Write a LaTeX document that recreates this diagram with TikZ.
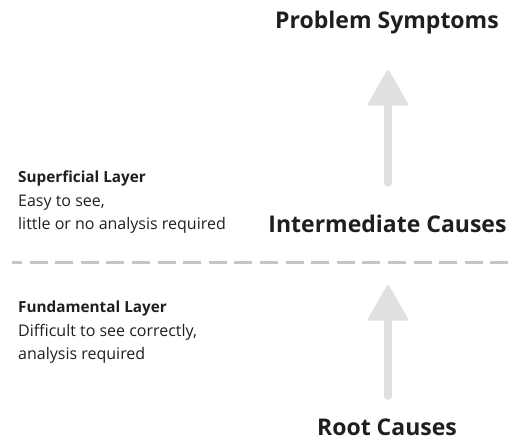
\documentclass[tikz,border=0pt]{standalone}
\usepackage{fontspec}
\setmainfont{Open Sans}
\usetikzlibrary{arrows.meta}
\definecolor{inkdark}{HTML}{1F1F1F}
\definecolor{arrowgray}{HTML}{E0E0E0}
\definecolor{dashgray}{HTML}{C4C4C4}

\begin{document}
\begin{tikzpicture}[x=1pt,y=1pt]
\tikzstyle{every node}+=[inner sep=0pt,text=inkdark]
\tikzstyle{cause}=[anchor=base,text depth=0pt,font=\fontsize{23}{27}\selectfont\bfseries]
\tikzstyle{layer}=[anchor=base west,align=left,font=\fontsize{16}{23.5}\selectfont]
\tikzstyle{uparrow}=[arrowgray,line width=7.5pt,line cap=round,-{Triangle[length=37pt,width=42pt,line width=2.5pt,round]}]
\useasboundingbox (0,0) rectangle (515,-443);
\node [cause] (symptoms) at (387,-28.3) {Problem Symptoms};
\node [cause] (intermediate) at (387.5,-233) {Intermediate Causes};
\node [cause] (root) at (387,-436) {Root Causes};
\node [layer] (superficial) at (18,-230) {{\fontsize{15.3}{23.5}\selectfont\bfseries Superficial Layer}\\Easy to see,\\little or no analysis required};
\node [layer] (fundamental) at (18,-360) {{\fontsize{15.3}{23.5}\selectfont\bfseries Fundamental Layer}\\Difficult to see correctly,\\analysis required};
\coordinate (upstart) at (388,-183);
\coordinate (upend) at (388,-70);
\coordinate (lowstart) at (388,-396);
\coordinate (lowend) at (388,-285);
\coordinate (dashleft) at (12,-263);
\coordinate (dashright) at (509,-263);
\draw [uparrow] (upstart) -- (upend);
\draw [uparrow] (lowstart) -- (lowend);
\draw [dashgray,line width=3pt,dash pattern=on 18pt off 7.6pt,dash phase=8pt] (dashleft) -- (dashright);
\end{tikzpicture}
\end{document}
